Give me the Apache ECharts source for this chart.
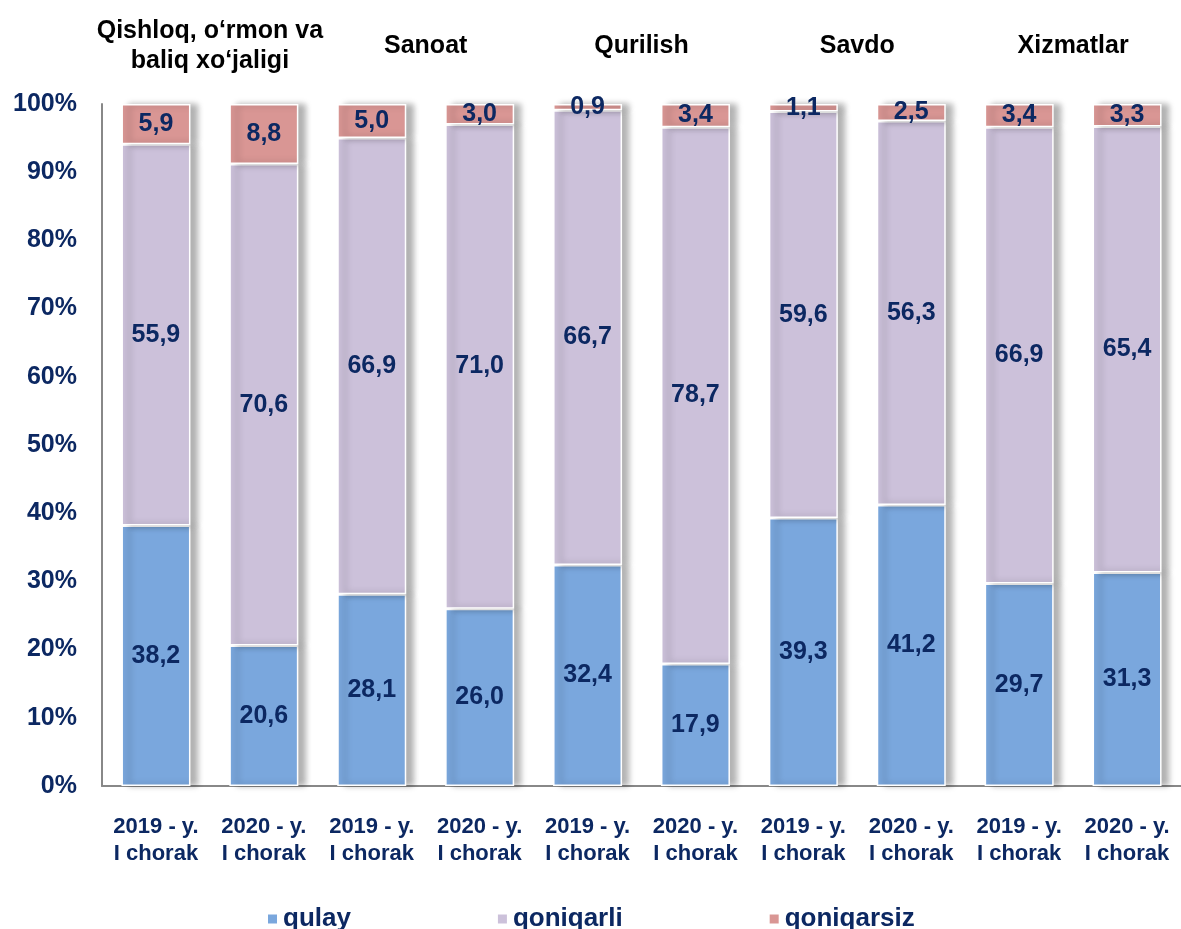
<!DOCTYPE html>
<html>
<head>
<meta charset="utf-8">
<script src="https://cdn.jsdelivr.net/npm/echarts@6/dist/echarts.min.js"></script>
<style>
  html, body { margin: 0; padding: 0; background: #fff; }
  #main { width: 1181px; height: 929px; }
</style>
</head>
<body>
<div id="main"></div>
<script>
var periods = ['2019 - y.\nI chorak', '2020 - y.\nI chorak', '2019 - y.\nI chorak', '2020 - y.\nI chorak',
    '2019 - y.\nI chorak', '2020 - y.\nI chorak', '2019 - y.\nI chorak', '2020 - y.\nI chorak',
    '2019 - y.\nI chorak', '2020 - y.\nI chorak'];
var sectors = ['Qishloq, o‘rmon va\nbaliq xo‘jaligi', 'Sanoat', 'Qurilish', 'Savdo', 'Xizmatlar'];
var qulay = [38.2, 20.6, 28.1, 26.0, 32.4, 17.9, 39.3, 41.2, 29.7, 31.3];
var qoniqarli = [55.9, 70.6, 66.9, 71.0, 66.7, 78.7, 59.6, 56.3, 66.9, 65.4];
var qoniqarsiz = [5.9, 8.8, 5.0, 3.0, 0.9, 3.4, 1.1, 2.5, 3.4, 3.3];

var navy = '#0c2862';
var font = 'Liberation Sans';

function fmt(p) {
    return p.value.toFixed(1).replace('.', ',');
}

function bar(name, data, color) {
    return {
        name: name,
        type: 'bar',
        stack: 'total',
        data: data,
        barWidth: 69,
        xAxisIndex: 0,
        itemStyle: {
            color: color,
            borderColor: '#fff',
            borderWidth: 1.5,
            shadowColor: 'rgba(0,0,0,0.3)',
            shadowBlur: 6,
            shadowOffsetX: 7
        },
        label: {
            show: true,
            position: 'inside',
            formatter: fmt,
            color: navy,
            fontFamily: font,
            fontWeight: 'bold',
            fontSize: 25
        }
    };
}

var myChart = echarts.init(document.getElementById('main'));
var option = {
    animation: false,
    grid: { left: 102, top: 104, width: 1080, bottom: 143 },
    legend: {
        bottom: -8,
        left: 261,
        itemGap: 145,
        itemWidth: 11,
        itemHeight: 11,
        icon: 'rect',
        textStyle: { color: navy, fontFamily: font, fontWeight: 'bold', fontSize: 26 },
        data: ['qulay', 'qoniqarli', 'qoniqarsiz']
    },
    xAxis: [{
        type: 'category',
        data: periods,
        axisLine: { lineStyle: { color: '#888', width: 2 } },
        axisTick: { show: false },
        axisLabel: {
            color: navy, fontFamily: font, fontWeight: 'bold', fontSize: 22,
            lineHeight: 27, margin: 27, interval: 0
        }
    }, {
        type: 'category',
        position: 'top',
        data: sectors,
        axisLine: { show: false },
        axisTick: { show: false },
        axisLabel: {
            color: '#000', fontFamily: font, fontWeight: 'bold', fontSize: 25,
            lineHeight: 30, margin: 58, interval: 0, verticalAlign: 'middle'
        }
    }],
    yAxis: {
        type: 'value',
        min: 0,
        max: 100,
        interval: 10,
        splitLine: { show: false },
        axisLine: { show: true, lineStyle: { color: '#888', width: 2 } },
        axisTick: { show: false },
        axisLabel: {
            formatter: '{value}%',
            color: navy, fontFamily: font, fontWeight: 'bold', fontSize: 25, margin: 25
        }
    },
    series: [
        bar('qulay', qulay, '#7aa7dd'),
        bar('qoniqarli', qoniqarli, '#ccc1da'),
        bar('qoniqarsiz', qoniqarsiz, '#d99694')
    ]
};
myChart.setOption(option);
</script>
</body>
</html>
